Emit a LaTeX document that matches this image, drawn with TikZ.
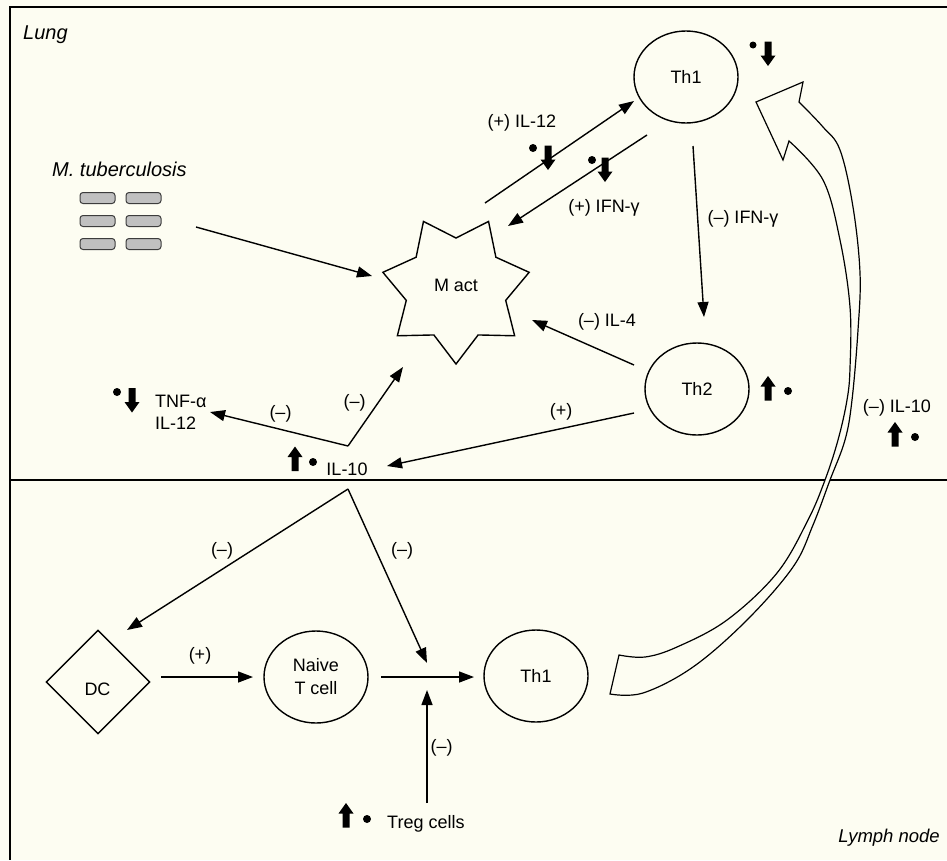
\documentclass[tikz,border=0pt]{standalone}
\usepackage{fontspec}
\setmainfont{Liberation Sans}
\usetikzlibrary{shapes.geometric,arrows.meta}
\definecolor{cream}{RGB}{253,253,242}
\definecolor{bactfill}{RGB}{192,192,192}
\definecolor{bactline}{RGB}{60,60,60}
\begin{document}
\begin{tikzpicture}[x=1pt,y=-1pt,
  lbl/.style={font=\fontsize{18}{21}\selectfont, inner sep=0pt, anchor=base},
  ital/.style={font=\fontsize{20}{24}\selectfont\itshape, inner sep=0pt, anchor=base west},
  cell/.style={draw, ellipse, line width=1.4pt, minimum width=104pt, minimum height=92pt, inner sep=0pt, font=\fontsize{18}{23}\selectfont, align=center},
  conn/.style={line width=1.4pt, -{Triangle[length=15pt,width=11pt]}},
  plain/.style={line width=1.4pt},
  dotmark/.style={fill, circle, inner sep=0pt, minimum size=8pt},
  bac/.style={draw=bactline, fill=bactfill, line width=1pt, rounded corners=3pt, minimum width=35pt, minimum height=11pt, inner sep=0pt},
  upblk/.pic={\fill (-3.5,12) -- (-3.5,-2) -- (-7.5,-2) -- (0,-12.5) -- (7.5,-2) -- (3.5,-2) -- (3.5,12) -- cycle;},
  dnblk/.pic={\fill (-3.5,-12) -- (-3.5,2) -- (-7.5,2) -- (0,12.5) -- (7.5,2) -- (3.5,2) -- (3.5,-12) -- cycle;},
]
\useasboundingbox (0,0) rectangle (947,860);
\fill[cream] (0,0) rectangle (947,860);
% frame and divider
\draw[plain] (947,7) -- (10,7) -- (10,860);
\draw[plain] (10,480) -- (947,480);

% region labels
\node[ital] (lung) at (23,39) {Lung};
\node[ital] (mtb) at (52,176) {M. tuberculosis};
\node[ital, anchor=base east, font=\fontsize{18.5}{22}\selectfont\itshape] (lymph) at (940,842) {Lymph node};

% bacteria
\foreach \r/\y in {1/198,2/221,3/244}{
  \node[bac] (ba\r) at (97.5,\y) {};
  \node[bac] (bb\r) at (143.5,\y) {};
}

% activated macrophage (7-pointed star)
\draw[plain, fill=cream, shift={(456,289)}] (90:75)
  \foreach \k in {1,...,6}{ -- ({90+\k*51.4286-25.7143}:51) -- ({90+\k*51.4286}:75) }
  -- ({90-25.7143}:51) -- cycle;
\node[lbl, anchor=center] (mact) at (456,285) {M act};

% cells
\node[cell] (th1a) at (686,77) {Th1};
\node[cell] (th2) at (697,389) {Th2};
\node[cell] (naive) at (316,677) {Naive\\T cell};
\node[cell] (th1b) at (536,676) {Th1};
\node[draw, diamond, plain, minimum width=104pt, minimum height=104pt, inner sep=0pt] (dc) at (98,682) {};
\node[lbl] (dctext) at (97.5,695) {DC};

% labels
\node[lbl] (l1) at (522,127) {(+) IL-12};
\node[lbl] (l2) at (604,212) {(+) IFN-γ};
\node[lbl] (l3) at (743,223) {(–) IFN-γ};
\node[lbl] (l4) at (607,326) {(–) IL-4};
\node[lbl] (l5) at (561,416) {(+)};
\node[lbl] (il10) at (347,475) {IL-10};
\node[lbl, anchor=base west] (tnf) at (155,407) {TNF-α};
\node[lbl, anchor=base west] (il12) at (155,429) {IL-12};
\node[lbl] (l6) at (280.5,418) {(–)};
\node[lbl] (l7) at (354.5,407) {(–)};
\node[lbl] (l8) at (897,412) {(–) IL-10};
\node[lbl] (l9) at (222,555) {(–)};
\node[lbl] (l10) at (402,555) {(–)};
\node[lbl] (l11) at (200,660) {(+)};
\node[lbl] (l12) at (441.5,752) {(–)};
\node[lbl, anchor=base west] (treg) at (387,828) {Treg cells};

% up/down markers
\node[dotmark, minimum size=7pt] (d1) at (753,45) {}; \pic at (768,53.5) {dnblk};
\node[dotmark] (d2) at (533,148) {}; \pic at (548,157.5) {dnblk};
\node[dotmark] (d3) at (592,160) {}; \pic at (605,169.5) {dnblk};
\node[dotmark] (d4) at (788,391) {}; \pic at (768,388.5) {upblk};
\node[dotmark] (d5) at (915,437) {}; \pic at (895,434.5) {upblk};
\node[dotmark] (d6) at (117,392) {}; \pic at (132,400) {dnblk};
\node[dotmark] (d7) at (313,462) {}; \pic at (295,459) {upblk};
\node[dotmark] (d8) at (367,819) {}; \pic at (346,815.5) {upblk};

% connector end points
\coordinate (bacS) at (196,227);  \coordinate (bacE) at (372,276);
\coordinate (il12S) at (485,203); \coordinate (il12E) at (634,101);
\coordinate (ifnS) at (647,135);  \coordinate (ifnE) at (508,226);
\coordinate (ifn2S) at (693,146); \coordinate (ifn2E) at (704,317);
\coordinate (il4S) at (634,365);  \coordinate (il4E) at (532,320);
\coordinate (th2S) at (634,413);  \coordinate (th2E) at (387,466);
\coordinate (j1) at (348,446);
\coordinate (tnfE) at (210,412);  \coordinate (mactE) at (403,367);
\coordinate (j2) at (348,489);
\coordinate (dcE) at (127,630);   \coordinate (midE) at (427,663);
\coordinate (dcS) at (161,677);   \coordinate (naiveE) at (253,677);
\coordinate (naiveS) at (381,677);\coordinate (th1bE) at (474,677);
\coordinate (tregS) at (427,803); \coordinate (tregE) at (427,690);

\draw[conn] (bacS) -- (bacE);
\draw[conn] (il12S) -- (il12E);
\draw[conn] (ifnS) -- (ifnE);
\draw[conn] (ifn2S) -- (ifn2E);
\draw[conn] (il4S) -- (il4E);
\draw[conn] (th2S) -- (th2E);
\draw[conn] (j1) -- (tnfE);
\draw[conn] (j1) -- (mactE);
\draw[conn] (j2) -- (dcE);
\draw[conn] (j2) -- (midE);
\draw[conn] (dcS) -- (naiveE);
\draw[conn] (naiveS) -- (th1bE);
\draw[conn] (tregS) -- (tregE);

% big hollow curved arrow from lymph node Th1 to lung Th1
\draw[line width=1.2pt, fill=cream, line join=miter]
  (610,694) -- (619,655)
  -- plot[smooth, tension=0.6] coordinates {(619,655) (645,657) (677,647) (727,620) (777,573) (808,520) (825,480) (838,440) (847,400) (850,368) (850,307) (840,240) (823,180) (789,141)}
  -- (783,160) -- (756,102) -- (803,82) -- (799,102)
  -- plot[smooth, tension=0.6] coordinates {(799,102) (823,127) (840,150) (853,207) (860,273) (858,330) (852,400) (845,440) (830,480) (813,525) (793,567) (747,620) (693,667) (643,693) (610,694)}
  -- cycle;
\end{tikzpicture}
\end{document}
